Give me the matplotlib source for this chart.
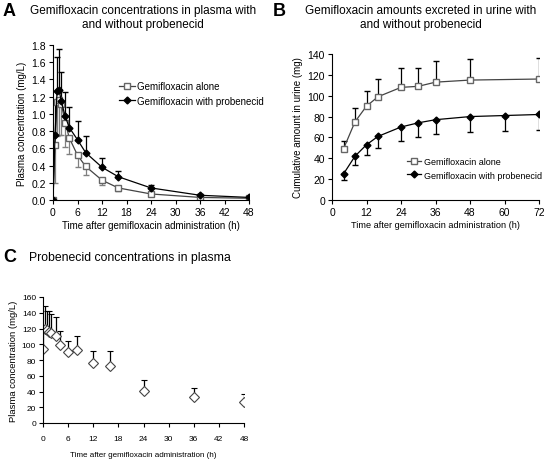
import numpy as np
import matplotlib
matplotlib.use("Agg")
import matplotlib.pyplot as plt
from matplotlib.lines import Line2D

plt.rcParams['font.family'] = ['Liberation Sans', 'DejaVu Sans']

# panel A: gemifloxacin in plasma (mg/L)
timesA = [0, 0.5, 1, 1.5, 2, 3, 4, 6, 8, 12, 16, 24, 36, 48]
aloneA = [0, 0.64, 1.14, 1.16, 1.12, 0.90, 0.72, 0.52, 0.39, 0.23, 0.14, 0.07, 0.03, 0.02]
aloneA_err = [0, 0.44, 0.40, 0.41, 0.37, 0.28, 0.19, 0.14, 0.10, 0.05, 0.03, 0.02, 0.01, 0.01]
probA = [0, 0.76, 1.27, 1.28, 1.15, 0.97, 0.84, 0.70, 0.55, 0.38, 0.27, 0.14, 0.055, 0.03]
probA_err = [0, 0.40, 0.39, 0.47, 0.34, 0.29, 0.24, 0.22, 0.19, 0.11, 0.07, 0.04, 0.01, 0.01]

# panel B: cumulative amount in urine (mg)
timesB_alone = [4, 8, 12, 16, 24, 30, 36, 48, 72]
aloneB = [49, 75, 90, 99, 108, 109, 113, 115, 116]
aloneB_err = [8, 13, 15, 17, 19, 18, 20, 20, 20]
timesB_prob = [4, 8, 12, 16, 24, 30, 36, 48, 60, 72]
probB = [25, 42, 53, 61, 70, 74, 77, 80, 81, 82]
probB_err = [6, 8, 10, 11, 13, 14, 14, 15, 15, 15]

# panel C: probenecid in plasma (mg/L)
timesC = [0, 0.5, 1, 1.5, 2, 3, 4, 6, 8, 12, 16, 24, 36, 48]
probC = [94, 120, 118, 116, 114, 110, 99, 90, 93, 76, 73, 41, 33, 27]
probC_err = [27, 28, 24, 26, 25, 25, 18, 14, 18, 15, 18, 14, 11, 10]

W, H = 544, 460
fig = plt.figure(figsize=(W / 100, H / 100), dpi=100)

alone_style = dict(color='#444444', marker='s', ms=4.5, mfc='white', mec='#666666', lw=0.9)
prob_style = dict(color='black', marker='D', ms=3.5, mfc='black', mec='black', lw=0.9)
handles = [Line2D([], [], **alone_style), Line2D([], [], **prob_style)]
labels = ['Gemifloxacin alone', 'Gemifloxacin with probenecid']


def px_axes(left, top, right, bottom):
    return fig.add_axes([left / W, 1 - bottom / H, (right - left) / W, (bottom - top) / H])


def style(ax, fs):
    for s in ['top', 'right']:
        ax.spines[s].set_visible(False)
    for s in ['left', 'bottom']:
        ax.spines[s].set_linewidth(0.8)
    ax.tick_params(direction='out', length=3, width=0.8, labelsize=fs, pad=2)


# ---- A ----
axA = px_axes(53, 46, 249, 201)
style(axA, 7.5)
axA.errorbar(timesA, aloneA, yerr=[aloneA_err, [0] * len(aloneA)], ecolor='#808080',
             elinewidth=0.9, capsize=2.5, **alone_style)
axA.errorbar(timesA, probA, yerr=[[0] * len(probA), probA_err], ecolor='black',
             elinewidth=0.9, capsize=2.5, **prob_style)
axA.set_xlim(0, 48)
axA.set_ylim(0, 1.8)
axA.set_xticks(range(0, 49, 6))
axA.set_yticks(np.arange(0, 1.81, 0.2))
axA.set_yticklabels(['%.1f' % v for v in np.arange(0, 1.81, 0.2)])
axA.set_xlabel('Time after gemifloxacin administration (h)', fontsize=7, labelpad=2)
axA.set_ylabel('Plasma concentration (mg/L)', fontsize=7, labelpad=3)
axA.legend(handles, labels, loc='upper left', bbox_to_anchor=(119 / W, 1 - 82 / H),
           bbox_transform=fig.transFigure, frameon=False, fontsize=7,
           handlelength=1.6, handletextpad=0.3, labelspacing=0.5, borderpad=0,
           borderaxespad=0)
fig.text(3 / W, 1 - 11 / H, 'A', fontsize=13, fontweight='bold', va='center')
fig.text(143 / W, 1 - 18 / H, 'Gemifloxacin concentrations in plasma with\nand without probenecid',
         fontsize=8.5, ha='center', va='center', linespacing=1.25)

# ---- B ----
axB = px_axes(332, 55, 539, 201)
style(axB, 7.5)
axB.errorbar(timesB_alone, aloneB, yerr=[[0] * len(aloneB), aloneB_err], ecolor='black',
             elinewidth=0.9, capsize=2.5, **alone_style)
axB.errorbar(timesB_prob, probB, yerr=[probB_err, [0] * len(probB)], ecolor='black',
             elinewidth=0.9, capsize=2.5, **prob_style)
axB.set_xlim(0, 72)
axB.set_ylim(0, 140)
axB.set_xticks(range(0, 73, 12))
axB.set_yticks(range(0, 141, 20))
axB.set_xlabel('Time after gemifloxacin administration (h)', fontsize=6.6, labelpad=2)
axB.set_ylabel('Cumulative amount in urine (mg)', fontsize=7, labelpad=3)
axB.legend(handles, labels, loc='upper left', bbox_to_anchor=(407 / W, 1 - 158 / H),
           bbox_transform=fig.transFigure, frameon=False, fontsize=6.5,
           handlelength=1.6, handletextpad=0.3, labelspacing=0.5, borderpad=0,
           borderaxespad=0)
fig.text(273 / W, 1 - 11 / H, 'B', fontsize=13, fontweight='bold', va='center')
fig.text(421 / W, 1 - 18 / H, 'Gemifloxacin amounts excreted in urine with\nand without probenecid',
         fontsize=8.5, ha='center', va='center', linespacing=1.25)

# ---- C ----
axC = px_axes(43, 298, 244, 424)
style(axC, 6)
axC.errorbar(timesC, probC, yerr=[[0] * len(probC), probC_err], fmt='D', color='black',
             ecolor='black', elinewidth=0.9, capsize=2.5, ms=5, mfc='white', mec='#444444',
             mew=0.8)
axC.set_xlim(0, 48)
axC.set_ylim(0, 160)
axC.set_xticks(range(0, 49, 6))
axC.set_yticks(range(0, 161, 20))
axC.tick_params(axis='x', pad=6)
axC.set_xlabel('Time after gemifloxacin administration (h)', fontsize=5.8, labelpad=6)
axC.set_ylabel('Plasma concentration (mg/L)', fontsize=6.8, labelpad=3)
fig.text(3 / W, 1 - 258 / H, 'C', fontsize=13, fontweight='bold', va='center')
fig.text(29 / W, 1 - 258 / H, 'Probenecid concentrations in plasma', fontsize=8.8,
         ha='left', va='center')

fig.savefig('out.png', dpi=100)
